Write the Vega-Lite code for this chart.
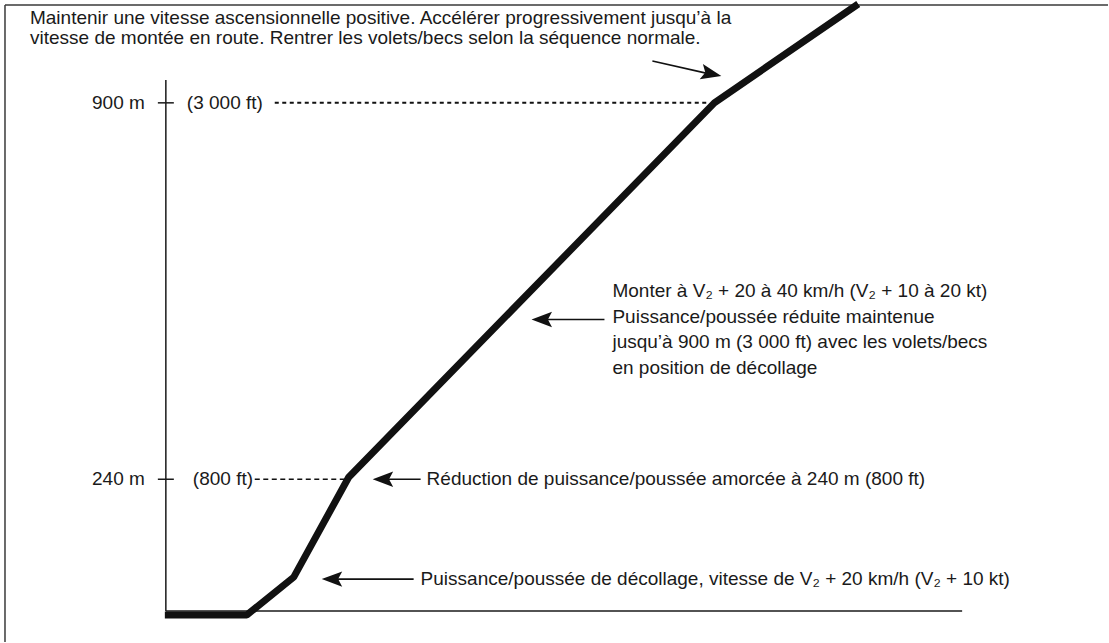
{
  "$schema": "https://vega.github.io/schema/vega-lite/v6.json",
  "width": 1109,
  "height": 643,
  "autosize": {"type": "fit", "contains": "padding"},
  "padding": 0,
  "background": "white",
  "config": {"view": {"stroke": null}},
  "datasets": {
    "frame": [
      {"x": 5, "y": 5, "x2": 1109, "y2": 5},
      {"x": 5, "y": 5, "x2": 5, "y2": 643}
    ],
    "axes": [
      {"x": 166, "y": 80, "x2": 166, "y2": 612},
      {"x": 166, "y": 612, "x2": 963, "y2": 612},
      {"x": 158, "y": 103, "x2": 174, "y2": 103},
      {"x": 158, "y": 480, "x2": 174, "y2": 480}
    ],
    "dash900": [{"x": 275, "y": 103, "x2": 710, "y2": 103}],
    "dash240": [{"x": 255, "y": 480, "x2": 347, "y2": 480}],
    "shafts": [
      {"x": 385, "y": 480, "x2": 421, "y2": 480},
      {"x": 335, "y": 580, "x2": 414, "y2": 580},
      {"x": 545, "y": 320, "x2": 605, "y2": 320},
      {"x": 653, "y": 61, "x2": 710, "y2": 74}
    ],
    "leftHeads": [
      {"x": 373, "y": 480},
      {"x": 322, "y": 580},
      {"x": 532, "y": 320}
    ],
    "diagHead": [{"x": 722, "y": 76}],
    "path": [
      {"step": 1, "x": 165, "y": 616},
      {"step": 2, "x": 247, "y": 616},
      {"step": 3, "x": 294, "y": 578},
      {"step": 4, "x": 349, "y": 478},
      {"step": 5, "x": 715, "y": 103},
      {"step": 6, "x": 859, "y": 4}
    ],
    "textsTop": [
      {"x": 30, "y": 18, "label": "Maintenir une vitesse ascensionnelle positive. Accélérer progressivement jusqu’à la"},
      {"x": 30, "y": 38, "label": "vitesse de montée en route. Rentrer les volets/becs selon la séquence normale."}
    ],
    "textsLeft": [
      {"x": 187, "y": 103, "label": "(3 000 ft)"},
      {"x": 193, "y": 480, "label": "(800 ft)"},
      {"x": 427, "y": 480, "label": "Réduction de puissance/poussée amorcée à 240 m (800 ft)"},
      {"x": 421, "y": 580, "label": "Puissance/poussée de décollage, vitesse de V₂ + 20 km/h (V₂ + 10 kt)"},
      {"x": 613, "y": 291, "label": "Monter à V₂ + 20 à 40 km/h (V₂ + 10 à 20 kt)"},
      {"x": 613, "y": 317, "label": "Puissance/poussée réduite maintenue"},
      {"x": 613, "y": 343, "label": "jusqu’à 900 m (3 000 ft) avec les volets/becs"},
      {"x": 613, "y": 369, "label": "en position de décollage"}
    ],
    "textsRight": [
      {"x": 145, "y": 103, "label": "900 m"},
      {"x": 145, "y": 480, "label": "240 m"}
    ]
  },
  "layer": [
    {
      "data": {"name": "frame"},
      "mark": {"type": "rule", "color": "#3a3a3a", "strokeWidth": 1.5},
      "encoding": {
        "x": {"field": "x", "type": "quantitative", "scale": {"domain": [0, 1109], "nice": false, "zero": false}, "axis": null},
        "y": {"field": "y", "type": "quantitative", "scale": {"domain": [0, 643], "nice": false, "zero": false, "reverse": true}, "axis": null},
        "x2": {"field": "x2"},
        "y2": {"field": "y2"}
      }
    },
    {
      "data": {"name": "axes"},
      "mark": {"type": "rule", "color": "#1a1a1a", "strokeWidth": 1.5},
      "encoding": {
        "x": {"field": "x", "type": "quantitative"},
        "y": {"field": "y", "type": "quantitative"},
        "x2": {"field": "x2"},
        "y2": {"field": "y2"}
      }
    },
    {
      "data": {"name": "dash900"},
      "mark": {"type": "rule", "color": "#111111", "strokeWidth": 2, "strokeDash": [4, 3.5]},
      "encoding": {
        "x": {"field": "x", "type": "quantitative"},
        "y": {"field": "y", "type": "quantitative"},
        "x2": {"field": "x2"},
        "y2": {"field": "y2"}
      }
    },
    {
      "data": {"name": "dash240"},
      "mark": {"type": "rule", "color": "#111111", "strokeWidth": 1.3, "strokeDash": [5, 3.5]},
      "encoding": {
        "x": {"field": "x", "type": "quantitative"},
        "y": {"field": "y", "type": "quantitative"},
        "x2": {"field": "x2"},
        "y2": {"field": "y2"}
      }
    },
    {
      "data": {"name": "shafts"},
      "mark": {"type": "rule", "color": "#111111", "strokeWidth": 1.6},
      "encoding": {
        "x": {"field": "x", "type": "quantitative"},
        "y": {"field": "y", "type": "quantitative"},
        "x2": {"field": "x2"},
        "y2": {"field": "y2"}
      }
    },
    {
      "data": {"name": "leftHeads"},
      "mark": {"type": "point", "shape": "M0,0 L2,-0.75 L1.6,0 L2,0.75 Z", "size": 420, "filled": true, "color": "#111111", "opacity": 1},
      "encoding": {
        "x": {"field": "x", "type": "quantitative"},
        "y": {"field": "y", "type": "quantitative"}
      }
    },
    {
      "data": {"name": "diagHead"},
      "mark": {"type": "point", "shape": "M0,0 L-2,-0.75 L-1.6,0 L-2,0.75 Z", "size": 420, "angle": 12, "filled": true, "color": "#111111", "opacity": 1},
      "encoding": {
        "x": {"field": "x", "type": "quantitative"},
        "y": {"field": "y", "type": "quantitative"}
      }
    },
    {
      "data": {"name": "path"},
      "mark": {"type": "line", "color": "#111111", "strokeWidth": 7, "strokeCap": "butt", "strokeJoin": "bevel"},
      "encoding": {
        "x": {"field": "x", "type": "quantitative"},
        "y": {"field": "y", "type": "quantitative"},
        "order": {"field": "step", "type": "quantitative"}
      }
    },
    {
      "data": {"name": "textsTop"},
      "mark": {"type": "text", "align": "left", "baseline": "middle", "font": "Liberation Sans", "fontSize": 19, "color": "#1a1a1a"},
      "encoding": {
        "x": {"field": "x", "type": "quantitative"},
        "y": {"field": "y", "type": "quantitative"},
        "text": {"field": "label"}
      }
    },
    {
      "data": {"name": "textsLeft"},
      "mark": {"type": "text", "align": "left", "baseline": "middle", "font": "Liberation Sans", "fontSize": 19, "color": "#1a1a1a"},
      "encoding": {
        "x": {"field": "x", "type": "quantitative"},
        "y": {"field": "y", "type": "quantitative"},
        "text": {"field": "label"}
      }
    },
    {
      "data": {"name": "textsRight"},
      "mark": {"type": "text", "align": "right", "baseline": "middle", "font": "Liberation Sans", "fontSize": 19, "color": "#1a1a1a"},
      "encoding": {
        "x": {"field": "x", "type": "quantitative"},
        "y": {"field": "y", "type": "quantitative"},
        "text": {"field": "label"}
      }
    }
  ]
}
